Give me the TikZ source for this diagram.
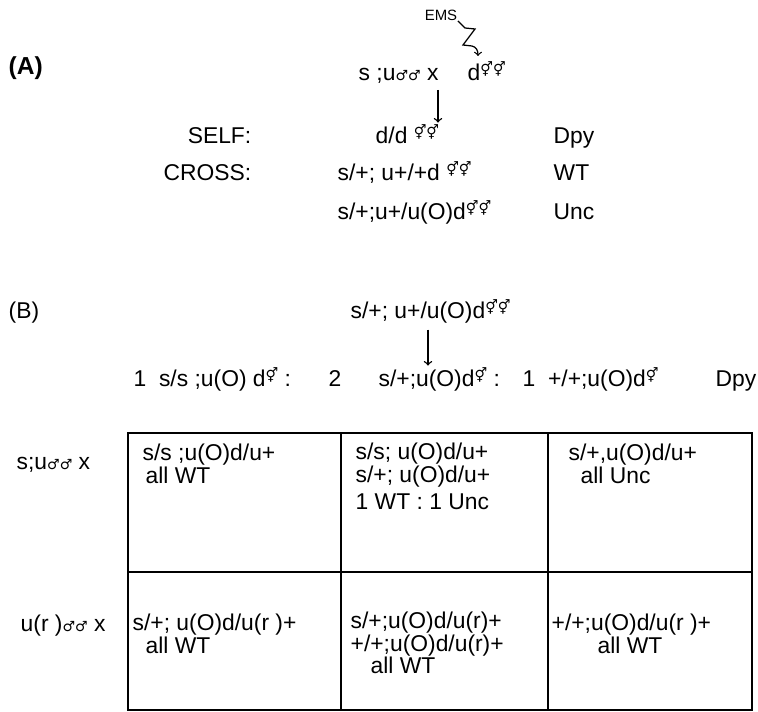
\documentclass[tikz,border=0pt]{standalone}
\usepackage{fontspec}
\setmainfont{Liberation Sans}
\newfontfamily\symfont{DejaVu Sans}
\newcommand{\msym}{{\symfont\fontsize{8}{8}\selectfont ♂}}
\newcommand{\hsym}{\raisebox{0.5ex}{\symfont\fontsize{8}{8}\selectfont ⚥}}

\begin{document}
\begin{tikzpicture}[x=0.02cm, y=-0.02cm, line width=0.8pt,
	every node/.style={inner sep=0pt, font=\fontsize{13}{15}\selectfont},
	lbl/.style={anchor=base west},
	rlbl/.style={anchor=base east}]

	\useasboundingbox (0,0) rectangle (758,712);

	\node[lbl, font=\fontsize{14}{15}\selectfont\bfseries] (labA) at (8,75) {(A)};
	\node[font=\fontsize{8.5}{9}\selectfont] (ems) at (441,15) {EMS};
	\node[lbl] (parS) at (358,81) {s ;u\msym\msym\ x};
	\node[lbl] (parD) at (467,81) {d\hsym\hsym};
	\draw[line width=0.7pt, ->] (ems.south east) -- (465,28) -- (475,29) -- (463,45) -- (472,46)
		.. controls (476,47) and (478,50) .. (478,56);

	\node[rlbl] (self) at (252,144) {SELF:};
	\node[lbl] (selfG) at (375,144) {d/d \hsym\hsym};
	\node[lbl] (selfP) at (553,144) {Dpy};
	\node[rlbl] (cross) at (252,181) {CROSS:};
	\node[lbl] (crossG) at (337,181) {s/+; u+/+d \hsym\hsym};
	\node[lbl] (crossP) at (553,181) {WT};
	\node[lbl] (uncG) at (337,220) {s/+;u+/u(O)d\hsym\hsym};
	\node[lbl] (uncP) at (553,220) {Unc};
	\coordinate (arrA) at (438,0);
	\draw[->, shorten <=3pt, shorten >=1pt] (parS.south -| arrA) -- (selfG.north -| arrA);

	\node[lbl] (labB) at (8,319) {(B)};
	\node[lbl] (parB) at (350,319) {s/+; u+/u(O)d\hsym\hsym};
	\node[lbl] (prog1) at (133,387) {1\ \ s/s ;u(O) d\hsym\ :};
	\node[lbl] (prog2) at (328,387) {2};
	\node[lbl] (prog3) at (378,387) {s/+;u(O)d\hsym\ :};
	\node[lbl] (prog4) at (522,387) {1\ \ +/+;u(O)d\hsym};
	\node[rlbl] (progP) at (757,387) {Dpy};
	\coordinate (arrB) at (428,0);
	\draw[->, shorten <=3pt, shorten >=1pt] (parB.south -| arrB) -- (prog3.north -| arrB);

	\draw[line width=1pt] (128,433) rectangle (752,710);
	\draw[line width=1pt] (341,433) -- (341,710);
	\draw[line width=1pt] (548,433) -- (548,710);
	\draw[line width=1pt] (128,572) -- (752,572);

	\node[lbl] (rowS) at (16,470) {s;u\msym\msym\ x};
	\node[lbl] (c11a) at (142,461) {s/s ;u(O)d/u+};
	\node[lbl] (c11b) at (145,484) {all WT};
	\node[lbl] (c12a) at (355,460) {s/s; u(O)d/u+};
	\node[lbl] (c12b) at (355,483) {s/+; u(O)d/u+};
	\node[lbl] (c12c) at (355,510) {1 WT : 1 Unc};
	\node[lbl] (c13a) at (568,461) {s/+,u(O)d/u+};
	\node[lbl] (c13b) at (580,484) {all Unc};

	\node[lbl] (rowU) at (20,632) {u(r )\msym\msym\ x};
	\node[lbl] (c21a) at (132,631) {s/+; u(O)d/u(r )+};
	\node[lbl] (c21b) at (145,654) {all WT};
	\node[lbl] (c22a) at (350,629) {s/+;u(O)d/u(r)+};
	\node[lbl] (c22b) at (350,652) {+/+;u(O)d/u(r)+};
	\node[lbl] (c22c) at (370,674) {all WT};
	\node[lbl] (c23a) at (551,631) {+/+;u(O)d/u(r )+};
	\node[lbl] (c23b) at (597,654) {all WT};

\end{tikzpicture}
\end{document}
